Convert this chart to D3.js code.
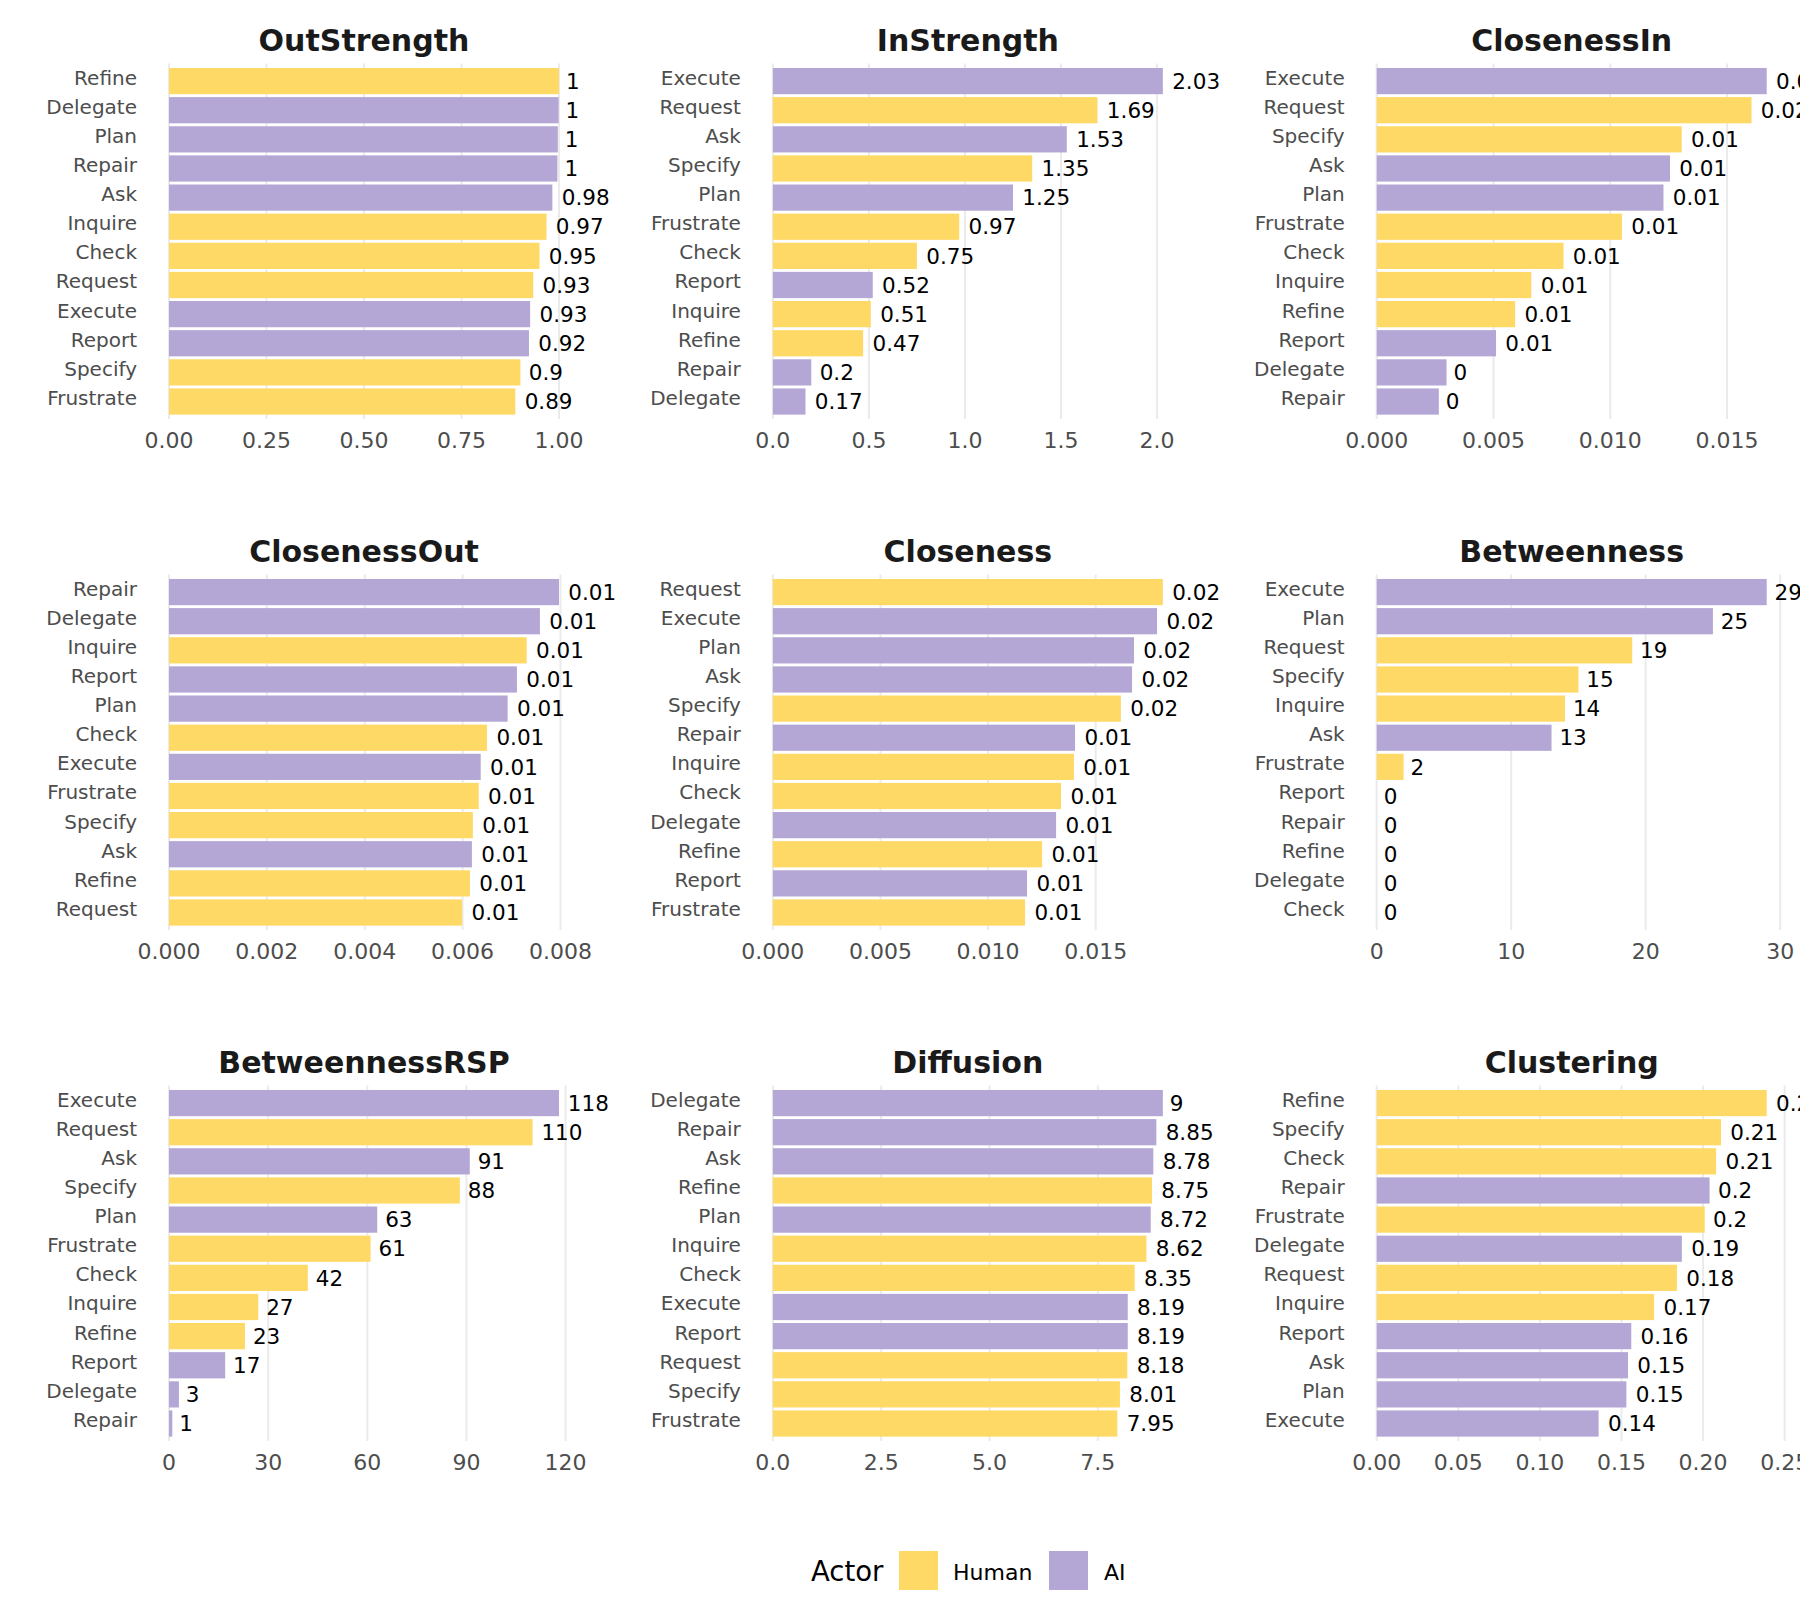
<!DOCTYPE html>
<html>
<head>
<meta charset="utf-8">
<script src="https://cdn.jsdelivr.net/npm/d3@7"></script>
<style>
  body { margin: 0; background: #fff; }
  svg { display: block; }
  text { font-family: "DejaVu Sans", sans-serif; }
</style>
</head>
<body>
<div id="chart"></div>
<script>
// Actor of each act
const humanActs = ["Refine", "Inquire", "Check", "Request", "Specify", "Frustrate"];
const aiActs = ["Delegate", "Plan", "Repair", "Ask", "Execute", "Report"];
const actors = ["Human", "AI"];

// Centrality values per measure, top to bottom
const outStrength = [["Refine", 1.000], ["Delegate", 0.999], ["Plan", 0.997], ["Repair", 0.996], ["Ask", 0.983], ["Inquire", 0.968],
  ["Check", 0.950], ["Request", 0.934], ["Execute", 0.926], ["Report", 0.923], ["Specify", 0.901], ["Frustrate", 0.888]];
const inStrength = [["Execute", 2.03], ["Request", 1.69], ["Ask", 1.53], ["Specify", 1.35], ["Plan", 1.25], ["Frustrate", 0.97],
  ["Check", 0.75], ["Report", 0.52], ["Inquire", 0.51], ["Refine", 0.47], ["Repair", 0.20], ["Delegate", 0.17]];
const closenessIn = [["Execute", 0.01670], ["Request", 0.01605], ["Specify", 0.01306], ["Ask", 0.01256], ["Plan", 0.01228], ["Frustrate", 0.01050],
  ["Check", 0.00800], ["Inquire", 0.00662], ["Refine", 0.00593], ["Report", 0.00511], ["Delegate", 0.00299], ["Repair", 0.00266]];
const closenessOut = [["Repair", 0.00797], ["Delegate", 0.00758], ["Inquire", 0.00731], ["Report", 0.00711], ["Plan", 0.00692], ["Check", 0.00650],
  ["Execute", 0.00637], ["Frustrate", 0.00633], ["Specify", 0.00621], ["Ask", 0.00619], ["Refine", 0.00615], ["Request", 0.00599]];
const closeness = [["Request", 0.01812], ["Execute", 0.01785], ["Plan", 0.01678], ["Ask", 0.01669], ["Specify", 0.01617], ["Repair", 0.01404],
  ["Inquire", 0.01399], ["Check", 0.01339], ["Delegate", 0.01316], ["Refine", 0.01251], ["Report", 0.01181], ["Frustrate", 0.01172]];
const betweenness = [["Execute", 29], ["Plan", 25], ["Request", 19], ["Specify", 15], ["Inquire", 14], ["Ask", 13],
  ["Frustrate", 2], ["Report", 0], ["Repair", 0], ["Refine", 0], ["Delegate", 0], ["Check", 0]];
const betweennessRSP = [["Execute", 118], ["Request", 110], ["Ask", 91], ["Specify", 88], ["Plan", 63], ["Frustrate", 61],
  ["Check", 42], ["Inquire", 27], ["Refine", 23], ["Report", 17], ["Delegate", 3], ["Repair", 1]];
const diffusion = [["Delegate", 9.00], ["Repair", 8.85], ["Ask", 8.78], ["Refine", 8.75], ["Plan", 8.72], ["Inquire", 8.62],
  ["Check", 8.35], ["Execute", 8.19], ["Report", 8.19], ["Request", 8.18], ["Specify", 8.01], ["Frustrate", 7.95]];
const clustering = [["Refine", 0.239], ["Specify", 0.211], ["Check", 0.208], ["Repair", 0.204], ["Frustrate", 0.201], ["Delegate", 0.187],
  ["Request", 0.184], ["Inquire", 0.170], ["Report", 0.156], ["Ask", 0.154], ["Plan", 0.153], ["Execute", 0.136]];

// Tick values per measure
const outStrengthTicks = [0, 0.25, 0.5, 0.75, 1];
const inStrengthTicks = [0, 0.5, 1, 1.5, 2];
const closenessInTicks = [0, 0.005, 0.01, 0.015];
const closenessOutTicks = [0, 0.002, 0.004, 0.006, 0.008];
const closenessTicks = [0, 0.005, 0.01, 0.015];
const betweennessTicks = [0, 10, 20, 30];
const betweennessRSPTicks = [0, 30, 60, 90, 120];
const diffusionTicks = [0, 2.5, 5, 7.5];
const clusteringTicks = [0, 0.05, 0.1, 0.15, 0.2, 0.25];

const panels = [
  { title: "OutStrength", data: outStrength, ticks: outStrengthTicks, digits: 2 },
  { title: "InStrength", data: inStrength, ticks: inStrengthTicks, digits: 1 },
  { title: "ClosenessIn", data: closenessIn, ticks: closenessInTicks, digits: 3 },
  { title: "ClosenessOut", data: closenessOut, ticks: closenessOutTicks, digits: 3 },
  { title: "Closeness", data: closeness, ticks: closenessTicks, digits: 3 },
  { title: "Betweenness", data: betweenness, ticks: betweennessTicks, digits: 0 },
  { title: "BetweennessRSP", data: betweennessRSP, ticks: betweennessRSPTicks, digits: 0 },
  { title: "Diffusion", data: diffusion, ticks: diffusionTicks, digits: 1 },
  { title: "Clustering", data: clustering, ticks: clusteringTicks, digits: 2 }
];

const width = 1800;
const height = 1620;
const panelW = 390;
const panelH = 355.4;
const colX = c => 169 + c * 603.85;
const rowY = r => 63.6 + r * 511;

const actorOf = act => humanActs.includes(act) ? "Human" : "AI";
const color = d3.scaleOrdinal().domain(actors).range(["#FFD966", "#B4A7D6"]);

const svg = d3.select("#chart").append("svg")
    .attr("width", width)
    .attr("height", height);

panels.forEach((p, i) => {
    const g = svg.append("g")
        .attr("transform", `translate(${colX(i % 3)},${rowY(Math.floor(i / 3))})`);

    const x = d3.scaleLinear()
        .domain([0, d3.max(p.data, d => d[1])])
        .range([0, panelW]);
    const y = d3.scaleBand()
        .domain(p.data.map(d => d[0]))
        .range([0, panelH])
        .paddingInner(0.1)
        .paddingOuter(0.15);

    // vertical grid lines
    g.selectAll(".grid")
        .data(p.ticks)
        .join("line")
        .attr("x1", d => x(d)).attr("x2", d => x(d))
        .attr("y1", 0).attr("y2", panelH)
        .attr("stroke", "#EBEBEB")
        .attr("stroke-width", 2);

    // title
    g.append("text")
        .attr("x", panelW / 2)
        .attr("y", -12.9)
        .attr("text-anchor", "middle")
        .attr("font-size", 30)
        .attr("font-weight", "bold")
        .attr("fill", "#1a1a1a")
        .text(p.title);

    // x axis tick labels
    const fmt = d3.format(`.${p.digits}f`);
    g.selectAll(".xtick")
        .data(p.ticks)
        .join("text")
        .attr("x", d => x(d))
        .attr("y", panelH + 29.3)
        .attr("text-anchor", "middle")
        .attr("font-size", 22)
        .attr("fill", "#4D4D4D")
        .text(d => fmt(d));

    // y axis labels
    g.selectAll(".ylab")
        .data(p.data)
        .join("text")
        .attr("x", -32)
        .attr("y", d => y(d[0]) + y.bandwidth() / 2 + 3.5)
        .attr("text-anchor", "end")
        .attr("font-size", 20)
        .attr("fill", "#4D4D4D")
        .text(d => d[0]);

    // bars
    g.selectAll(".bar")
        .data(p.data)
        .join("rect")
        .attr("x", 0)
        .attr("y", d => y(d[0]))
        .attr("width", d => x(d[1]))
        .attr("height", y.bandwidth())
        .attr("fill", d => color(actorOf(d[0])));

    // value labels
    g.selectAll(".val")
        .data(p.data)
        .join("text")
        .attr("y", d => y(d[0]) + y.bandwidth() / 2 + 7.7)
        .attr("font-size", 21.5)
        .attr("fill", "#000")
        .text(d => String(+d[1].toFixed(2)))
        .attr("x", function(d) {
            return x(d[1]) + 6 + 0.07 * this.getComputedTextLength();
        });
});

// legend
const legend = svg.append("g");
legend.append("text")
    .attr("x", 811)
    .attr("y", 1581)
    .attr("font-size", 27.5)
    .attr("fill", "#000")
    .text("Actor");

const keyX = [899, 1049];
const labelX = [953, 1104];
actors.forEach((a, i) => {
    legend.append("rect")
        .attr("x", keyX[i])
        .attr("y", 1551)
        .attr("width", 39)
        .attr("height", 39)
        .attr("fill", color(a));
    legend.append("text")
        .attr("x", labelX[i])
        .attr("y", 1580)
        .attr("font-size", 22)
        .attr("fill", "#000")
        .text(a);
});
</script>
</body>
</html>
